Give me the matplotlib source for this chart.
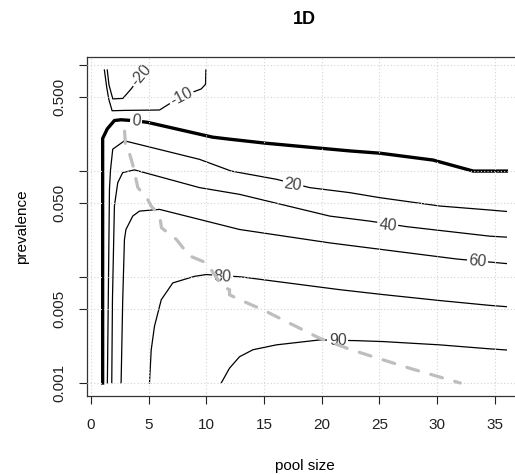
import matplotlib
matplotlib.use("Agg")
import matplotlib.pyplot as plt

plt.rcParams["font.family"] = ["Liberation Sans", "DejaVu Sans"]

# contour lines (% saving vs individual testing)
m20_pool = [1.40, 1.55, 1.88, 2.75, 3.47, 4.34, 4.95]
m20_prev = [0.90, 0.65, 0.48, 0.485, 0.596, 0.796, 0.90]

m10_pool = [1.15, 1.35, 1.53, 1.82, 3.0, 5.93, 7.8, 9.55, 9.92, 9.95]
m10_prev = [0.90, 0.62, 0.478, 0.371, 0.374, 0.377, 0.505, 0.596, 0.66, 0.90]

z0_pool = [1.0, 1.0, 1.4, 2.02, 2.6, 3.9, 4.91, 10.53, 12.0, 15.19, 22.42, 25.03, 29.65, 33.13, 36.0]
z0_prev = [0.001, 0.203, 0.25, 0.30, 0.305, 0.298, 0.288, 0.209, 0.200, 0.183, 0.155, 0.1475, 0.127, 0.100, 0.100]

p20_pool = [1.41, 1.59, 1.68, 1.875, 2.89, 9.4, 12.15, 16.06, 18.95, 22.42, 25.03, 30.23, 34.57, 36.0]
p20_prev = [0.001, 0.0673, 0.102, 0.161, 0.193, 0.129, 0.100, 0.0837, 0.0698, 0.0626, 0.0561, 0.0468, 0.0429, 0.0416]

p40_pool = [1.79, 1.85, 2.02, 2.31, 2.74, 3.76, 9.4, 12.87, 20.69, 24.16, 27.34, 34.57, 36.0]
p40_prev = [0.001, 0.0061, 0.0468, 0.0778, 0.0968, 0.1026, 0.0698, 0.0603, 0.0376, 0.0337, 0.0299, 0.0243, 0.0238]

p60_pool = [2.6, 2.74, 2.89, 3.02, 3.61, 4.19, 5.93, 12.87, 20.69, 31.68, 36.0]
p60_prev = [0.001, 0.0061, 0.0226, 0.0281, 0.0376, 0.0419, 0.0435, 0.0281, 0.0210, 0.0148, 0.0134]

p80_pool = [5.06, 5.21, 5.49, 6.08, 7.08, 8.97, 9.98, 13.02, 21.55, 25.31, 30.23, 34.57, 36.0]
p80_prev = [0.001, 0.00205, 0.00342, 0.0061, 0.0088, 0.01016, 0.01055, 0.01003, 0.0076, 0.00683, 0.0060, 0.0054, 0.00525]

p90_pool = [11.28, 12.0, 12.87, 14.03, 16.06, 19.82, 23.0, 25.31, 30.23, 34.57, 36.0]
p90_prev = [0.001, 0.00138, 0.00177, 0.00206, 0.00229, 0.00255, 0.00251, 0.00246, 0.00229, 0.0021, 0.00205]

# optimal pool size (grey dashed)
opt_pool = [2.9, 3.0, 3.3, 3.6, 4.05, 4.9, 5.2, 5.95, 6.1, 7.4, 8.5, 10.0, 11.4, 12.0, 12.0, 12.9, 14.9, 19.8, 22.6, 27.6, 32.0]
opt_prev = [0.238, 0.161, 0.150, 0.116, 0.070, 0.054, 0.047, 0.0376, 0.0292, 0.0226, 0.0159, 0.0136,
            0.0081, 0.0076, 0.0068, 0.0061, 0.0049, 0.00265, 0.00205, 0.00138, 0.001]

levels = ["-20", "-10", "0", "20", "40", "60", "80", "90"]
pools = [m20_pool, m10_pool, z0_pool, p20_pool, p40_pool, p60_pool, p80_pool, p90_pool]
prevs = [m20_prev, m10_prev, z0_prev, p20_prev, p40_prev, p60_prev, p80_prev, p90_prev]

# where R put the inline contour labels (pool, prevalence, angle)
label_pos = {"-20": (4.34, 0.796, 50), "-10": (7.8, 0.505, 27), "0": (3.9, 0.298, -6),
             "20": (17.5, 0.075, -8), "40": (25.7, 0.0307, -6), "60": (33.5, 0.0141, -5),
             "80": (11.4, 0.0101, -2), "90": (21.4, 0.0025, 0)}

xticks = [0, 5, 10, 15, 20, 25, 30, 35]
yticks = [0.001, 0.005, 0.01, 0.05, 0.1, 0.5, 1]
ytick_labels = ["0.001", "0.005", "", "0.050", "", "0.500", ""]

W, H = 515, 475
fig = plt.figure(figsize=(W / 100, H / 100), dpi=100)
ax = fig.add_axes([86.5 / W, 1 - 395.5 / H, (522.5 - 86.5) / W, (395.5 - 57.5) / H])
ax.set_yscale("log")
ax.set_xlim(-0.4, 37.4)
ax.set_ylim(0.000762, 1.18)

for lev, px, py in zip(levels, pools, prevs):
    lw = 2.4 if lev == "0" else 0.9
    ax.plot(px, py, color="black", lw=lw, zorder=2, solid_joinstyle="round")
    lx, ly, rot = label_pos[lev]
    ax.text(lx, ly, lev, fontsize=11.5, color="#444444", ha="center", va="center",
            rotation=rot, rotation_mode="anchor", zorder=2.5,
            bbox=dict(boxstyle="square,pad=0.1", facecolor="white", edgecolor="none"))

ax.plot(opt_pool, opt_prev, color="#bebebe", lw=2.3, linestyle=(0, (3.8, 4)),
        dash_capstyle="round", zorder=3)

# dotted grid drawn over the label boxes like R does
for xv in xticks:
    ax.axvline(xv, color="#d3d3d3", lw=0.8, linestyle=(0, (1, 2)), zorder=2.7)
for yv in yticks:
    ax.axhline(yv, color="#d3d3d3", lw=0.8, linestyle=(0, (1, 2)), zorder=2.7)

ax.set_xticks(xticks)
ax.set_xticklabels([str(v) for v in xticks])
ax.set_yticks(yticks)
ax.set_yticklabels(ytick_labels, rotation=90, va="center")
ax.minorticks_off()
ax.tick_params(axis="both", length=5.5, width=0.8, labelsize=11, colors="#222222")
ax.tick_params(axis="x", pad=11)
ax.tick_params(axis="y", pad=9)
for s in ax.spines.values():
    s.set_linewidth(0.9)
    s.set_color("#333333")

fig.text(304.5 / W, 1 - 19 / H, "1D", fontsize=13, fontweight="bold", ha="center", va="center")
fig.text(304.5 / W, 1 - 466 / H, "pool size", fontsize=11, ha="center", va="center")
fig.text(22.5 / W, 1 - 227 / H, "prevalence", fontsize=11, rotation=90, ha="center", va="center")

fig.savefig("out.png", dpi=100)
